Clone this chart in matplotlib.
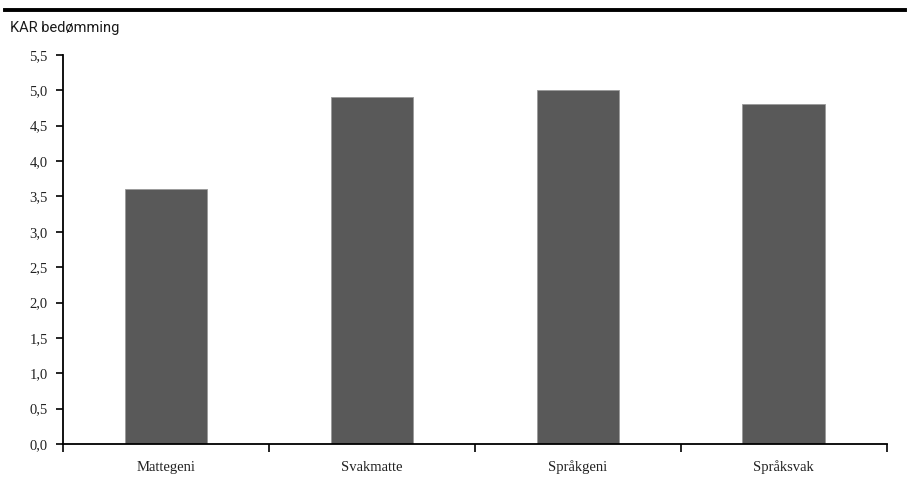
import matplotlib.pyplot as plt
from matplotlib.ticker import FixedLocator, FuncFormatter

categories = ["Mattegeni", "Svakmatte", "Språkgeni", "Språksvak"]
scores = [3.6, 4.9, 5.0, 4.8]
yticks = [0.0, 0.5, 1.0, 1.5, 2.0, 2.5, 3.0, 3.5, 4.0, 4.5, 5.0, 5.5]

fig = plt.figure(figsize=(9.09, 5.04), dpi=100)
ax = fig.add_axes([0.0693, 0.119, 0.906, 0.772])

xpos = list(range(len(categories)))
ax.bar(xpos, scores, width=0.4, color="#595959", edgecolor="#9a9a9a", linewidth=0.6)

ax.set_xlim(-0.5, len(categories) - 0.5)
ax.set_ylim(0, 5.5)

# category boundaries get the tick marks, names sit at the centres
ax.xaxis.set_major_locator(FixedLocator([i - 0.5 for i in range(len(categories) + 1)]))
ax.xaxis.set_major_formatter(FuncFormatter(lambda v, p: ""))
ax.xaxis.set_minor_locator(FixedLocator(xpos))
ax.set_xticklabels(categories, minor=True)
ax.tick_params(axis="x", which="major", direction="out", length=6, width=1.2, color="black")
ax.tick_params(axis="x", which="minor", length=0, pad=12)

ax.set_yticks(yticks)
ax.yaxis.set_major_formatter(FuncFormatter(lambda v, p: f"{v:.1f}".replace(".", ",")))
ax.tick_params(axis="y", direction="out", length=5, width=1.2, color="black", pad=6)

for lab in ax.get_xticklabels(minor=True) + ax.get_yticklabels():
    lab.set_fontfamily("Liberation Serif")
    lab.set_fontsize(10.5)
    lab.set_color("#222222")

for side in ["top", "right"]:
    ax.spines[side].set_visible(False)
for side in ["left", "bottom"]:
    ax.spines[side].set_linewidth(1.3)

# header rule and axis caption
fig.add_artist(plt.Line2D([0.006, 0.996], [0.981, 0.981], color="black", linewidth=2.8))
fig.text(0.011, 0.944, "KAR bedømming", fontsize=10.5, fontfamily="Roboto",
         color="#1a1a1a", va="center", ha="left")

fig.savefig("out.png", dpi=100)
